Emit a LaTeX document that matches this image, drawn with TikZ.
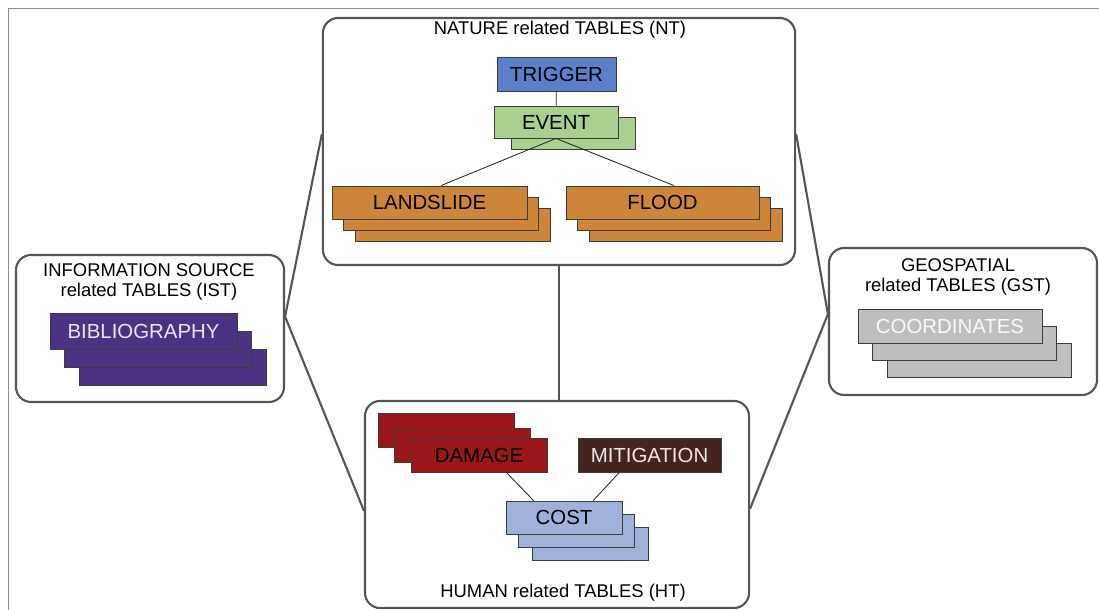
\documentclass[tikz,border=0pt]{standalone}
\usepackage{fontspec}
\setmainfont{Liberation Sans}
\usepackage{xcolor}
\usetikzlibrary{positioning,calc}
\definecolor{grpline}{HTML}{555555}
\definecolor{tblline}{HTML}{3C3C3C}
\definecolor{framegray}{HTML}{8C8C8C}
\definecolor{trigblue}{HTML}{5B7FCA}
\definecolor{eventgreen}{HTML}{A9D08E}
\definecolor{hazorange}{HTML}{CC8539}
\definecolor{dmgred}{HTML}{9A1618}
\definecolor{mitbrown}{HTML}{46241F}
\definecolor{costblue}{HTML}{9FB1D8}
\definecolor{biblpurple}{HTML}{4B3283}
\definecolor{coordgray}{HTML}{BEBEBE}
\newcommand{\tablabelfont}{\fontsize{14.5}{17}\selectfont}
\newcommand{\grptitlefont}{\fontsize{13.1}{14.8}\selectfont}
\tikzset{
  grp/.style={draw=grpline,line width=1.5pt,rounded corners=0.38cm,fill=white},
  tbl/.style={draw=tblline,line width=0.6pt,inner sep=0pt,font=\tablabelfont},
  ttl/.style={font=\grptitlefont,align=center,inner sep=0pt},
  link/.style={draw=grpline,line width=1.5pt},
  rel/.style={draw=black!85,line width=0.6pt}
}

\begin{document}
\begin{tikzpicture}[x=0.025cm,y=-0.025cm]
  \useasboundingbox (0,0) rectangle (1099,610);
  \draw[framegray,line width=0.7pt] (8,610) -- (8,8) -- (1099,8);

  % group boxes
  \node[grp,minimum width=11.8cm,minimum height=6.175cm] (nt) at (559,141.5) {};
  \node[grp,minimum width=9.6cm,minimum height=5.175cm] (ht) at (557,504.5) {};
  \node[grp,minimum width=6.7cm,minimum height=3.675cm] (ist) at (150,328.5) {};
  \node[grp,minimum width=6.7cm,minimum height=3.675cm] (gst) at (963,321.5) {};

  \node[ttl] (ntt) at (560,30) {NATURE related TABLES (NT)};
  \node[ttl] (htt) at (563,593) {HUMAN related TABLES (HT)};
  \node[ttl] (istt) at (149,282) {INFORMATION SOURCE\\related TABLES (IST)};
  \node[ttl] (gstt) at (958,277) {GEOSPATIAL\\related TABLES (GST)};

  % links between groups
  \draw[link] ($(nt.north west)!0.47!(nt.south west)$) -- ($(ist.north east)!0.42!(ist.south east)$)
    -- ($(ht.north west)!0.53!(ht.south west)$);
  \draw[link] ($(nt.north east)!0.47!(nt.south east)$) -- ($(gst.north west)!0.45!(gst.south west)$)
    -- ($(ht.north east)!0.52!(ht.south east)$);
  \draw[link] (nt.south) -- (nt.south |- ht.north);

  % nature tables
  \node[tbl,fill=trigblue,minimum width=2.975cm,minimum height=0.85cm] (trig) at (556.5,74) {TRIGGER};
  \node[tbl,fill=eventgreen,minimum width=3.1cm,minimum height=0.8cm] (ev2) at (573,133) {};
  \node[tbl,fill=eventgreen,minimum width=3.1cm,minimum height=0.8cm] (ev) at (556,122) {EVENT};

  \node[tbl,fill=hazorange,minimum width=4.875cm,minimum height=0.825cm] (ls3) at (452.5,224.5) {};
  \node[tbl,fill=hazorange,minimum width=4.875cm,minimum height=0.825cm] (ls2) at (441,213.5) {};
  \node[tbl,fill=hazorange,minimum width=4.875cm,minimum height=0.825cm] (ls) at (429.5,202.5) {LANDSLIDE};

  \node[tbl,fill=hazorange,minimum width=4.825cm,minimum height=0.825cm] (fl3) at (685.5,224.5) {};
  \node[tbl,fill=hazorange,minimum width=4.825cm,minimum height=0.825cm] (fl2) at (674,213.5) {};
  \node[tbl,fill=hazorange,minimum width=4.825cm,minimum height=0.825cm] (fl) at (662.5,202.5) {FLOOD};

  \draw[rel] (trig) -- (ev);
  \draw[rel] (ev.south) -- (ls2.center |- ls.north);
  \draw[rel] (ev.south) -- (fl2.center |- fl.north);

  % human tables
  \node[tbl,fill=dmgred,minimum width=3.4cm,minimum height=0.85cm] (dmg3) at (446,430) {};
  \node[tbl,fill=dmgred,minimum width=3.4cm,minimum height=0.85cm] (dmg2) at (462,445) {};
  \node[tbl,fill=dmgred,minimum width=3.4cm,minimum height=0.85cm] (dmg) at (479,455) {DAMAGE};
  \node[tbl,fill=mitbrown,text=white!90!mitbrown,minimum width=3.575cm,minimum height=0.85cm] (mit) at (649.5,455) {MITIGATION};

  \node[tbl,fill=costblue,minimum width=2.9cm,minimum height=0.825cm] (cost3) at (590,544) {};
  \node[tbl,fill=costblue,minimum width=2.9cm,minimum height=0.825cm] (cost2) at (576,530.5) {};
  \node[tbl,fill=costblue,minimum width=2.9cm,minimum height=0.825cm] (cost) at (564,517.5) {COST};

  \draw[rel] ($(dmg.south west)!0.7!(dmg.south east)$) -- ($(cost.north west)!0.24!(cost.north east)$);
  \draw[rel] ($(mit.south west)!0.29!(mit.south east)$) -- ($(cost.north west)!0.75!(cost.north east)$);

  % information source tables
  \node[tbl,fill=biblpurple,minimum width=4.675cm,minimum height=0.9cm] (bib3) at (172.5,367) {};
  \node[tbl,fill=biblpurple,minimum width=4.675cm,minimum height=0.9cm] (bib2) at (157.5,349) {};
  \node[tbl,fill=biblpurple,text=white!88!biblpurple,minimum width=4.675cm,minimum height=0.9cm] (bib) at (143.5,331) {BIBLIOGRAPHY};

  % geospatial tables
  \node[tbl,fill=coordgray,minimum width=4.6cm,minimum height=0.85cm] (crd3) at (979,360) {};
  \node[tbl,fill=coordgray,minimum width=4.6cm,minimum height=0.85cm] (crd2) at (964,343) {};
  \node[tbl,fill=coordgray,text=white!92!coordgray,minimum width=4.6cm,minimum height=0.85cm] (crd) at (950,326) {COORDINATES};
\end{tikzpicture}
\end{document}
